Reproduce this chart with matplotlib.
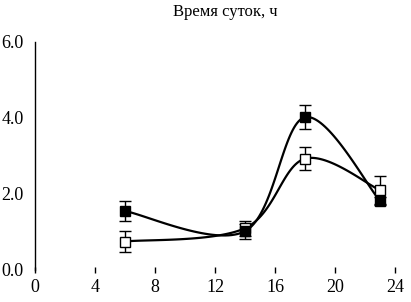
import matplotlib
matplotlib.use('Agg')
import matplotlib.pyplot as plt
import numpy as np

plt.rcParams['font.family'] = ['Liberation Serif', 'DejaVu Serif']

# data
hours = [6, 14, 18, 23]
filled_vals = [1.55, 1.02, 4.02, 1.82]
filled_err = [0.27, 0.2, 0.31, 0.1]
open_vals = [0.75, 1.1, 2.93, 2.1]
open_err = [0.27, 0.2, 0.3, 0.37]
x_ticks = [0, 4, 8, 12, 16, 20, 24]
y_ticks = [0, 2, 4, 6]
title = "Время суток, ч"


def smooth(xs, ys, n=40):
    # Excel-like smoothed line (Catmull-Rom through bezier segments)
    xs = np.asarray(xs, float)
    ys = np.asarray(ys, float)
    px, py = [], []
    for i in range(len(xs) - 1):
        i0 = max(i - 1, 0)
        i3 = min(i + 2, len(xs) - 1)
        p0 = np.array([xs[i], ys[i]])
        p3 = np.array([xs[i + 1], ys[i + 1]])
        p1 = p0 + (p3 - np.array([xs[i0], ys[i0]])) / 6.0
        p2 = p3 - (np.array([xs[i3], ys[i3]]) - p0) / 6.0
        t = np.linspace(0, 1, n)[:, None]
        pts = ((1 - t) ** 3 * p0 + 3 * (1 - t) ** 2 * t * p1
               + 3 * (1 - t) * t ** 2 * p2 + t ** 3 * p3)
        px.extend(pts[:, 0])
        py.extend(pts[:, 1])
    return px, py


fig = plt.figure(figsize=(4.11, 3.02), dpi=100)
ax = fig.add_axes([35 / 411, 32 / 302, 360 / 411, 228 / 302])

for vals, err, face in [(open_vals, open_err, 'white'),
                        (filled_vals, filled_err, 'black')]:
    sx, sy = smooth(hours, vals)
    ax.plot(sx, sy, color='black', lw=1.6, zorder=2)
    ax.errorbar(hours, vals, yerr=err, fmt='none', ecolor='black',
                elinewidth=1.0, capsize=4, capthick=1.0, zorder=3)
    ax.plot(hours, vals, ls='none', marker='s', ms=6.5, mfc=face,
            mec='black', mew=1.0, zorder=4)

ax.set_xlim(0, 24)
ax.set_ylim(0, 6)
ax.set_xticks(x_ticks)
ax.set_xticklabels([str(v) for v in x_ticks])
ax.set_yticks(y_ticks)
ax.set_yticklabels(['%.1f' % v for v in y_ticks])
ax.set_yticks([6], minor=True)

for s in ['top', 'right', 'bottom']:
    ax.spines[s].set_visible(False)
ax.spines['left'].set_linewidth(1.0)

ax.tick_params(axis='x', direction='inout', length=5, width=1.0,
               pad=4, labelsize=13)
ax.tick_params(axis='y', which='major', length=0, pad=8, labelsize=13)
ax.tick_params(axis='y', which='minor', length=7, width=1.0)

fig.text(225 / 411, 1 - 12 / 302, title, ha='center', va='center',
         fontsize=12)

fig.savefig('out.png', dpi=100)
